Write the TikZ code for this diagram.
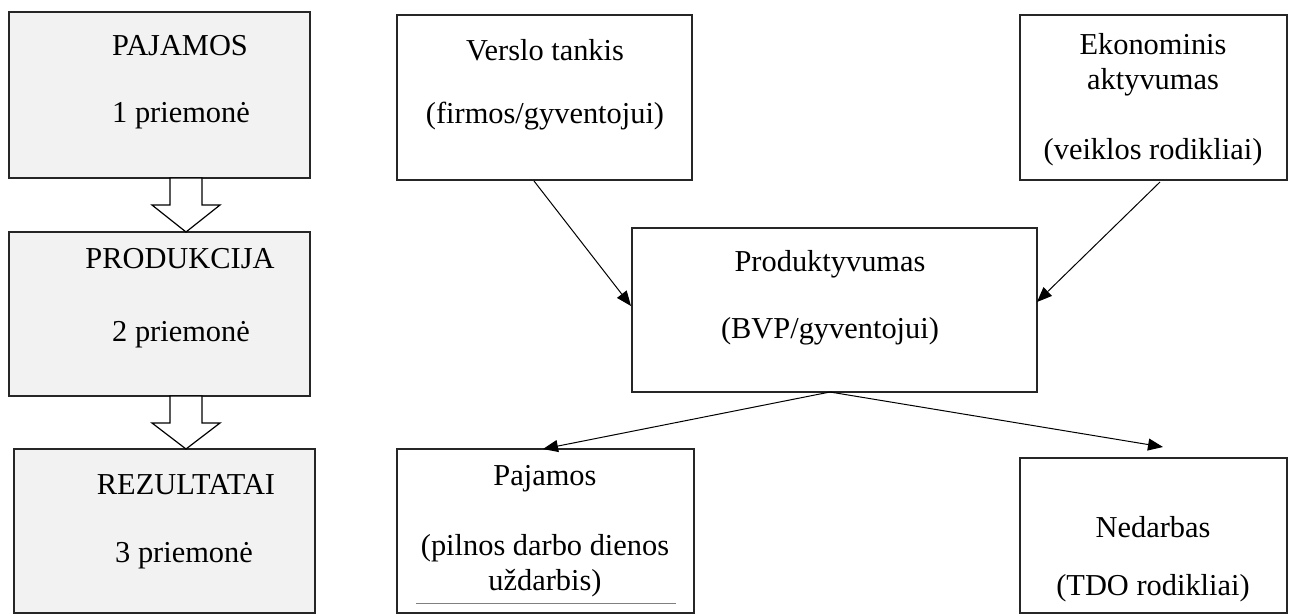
\documentclass[tikz,border=0pt]{standalone}
\usepackage{fontspec}
\setmainfont{Liberation Serif}
\usetikzlibrary{fit,arrows.meta}
\definecolor{boxgray}{HTML}{F2F2F2}
\begin{document}
\begin{tikzpicture}[x=0.5pt,y=-0.5pt,
  lbox/.style={draw=black!85,line width=0.65pt,fill=boxgray,inner sep=0pt},
  rbox/.style={draw=black!85,line width=0.65pt,fill=white,inner sep=0pt},
  txt/.style={font=\fontsize{15.2}{18}\selectfont,inner sep=0pt,align=center},
  arr/.style={line width=0.5pt,-{Triangle[length=7.5pt,width=6pt]}},
  blockarr/.style={draw=black,line width=0.6pt,fill=white,line join=miter}]
\useasboundingbox (0,0) rectangle (1296,615);
% left column
\node[lbox,fit={(9,12)(310,178)}] (b1) {};
\node[lbox,fit={(9,232)(310,396)}] (b2) {};
\node[lbox,fit={(14,449)(315,613)}] (b3) {};
\node[txt] (t1a) at (180,46) {PAJAMOS};
\node[txt] (t1b) at (181,116) {1 priemonė};
\node[txt] (t2a) at (180,259) {PRODUKCIJA};
\node[txt] (t2b) at (181,335) {2 priemonė};
\node[txt] (t3a) at (186,485) {REZULTATAI};
\node[txt] (t3b) at (184,556) {3 priemonė};
% block arrows
\draw[blockarr] (170,178) -- (170,205) -- (152,205) -- (186,232) -- (220,205) -- (202,205) -- (202,178) -- cycle;
\draw[blockarr] (170,396) -- (170,423) -- (152,423) -- (186,449) -- (220,423) -- (202,423) -- (202,396) -- cycle;
% right part
\node[rbox,fit={(397,15)(692,180)}] (vt) {};
\node[txt] (vt1) at (545,50) {Verslo tankis};
\node[txt] (vt2) at (545,116) {(firmos/gyventojui)};
\node[rbox,fit={(1020,15)(1287,180)}] (ea) {};
\node[txt] (ea1) at (1153,44) {Ekonominis};
\node[txt] (ea2) at (1153,82) {aktyvumas};
\node[txt] (ea3) at (1153,152) {(veiklos rodikliai)};
\node[rbox,fit={(632,228)(1037,392)}] (pr) {};
\node[txt] (pr1) at (830,264) {Produktyvumas};
\node[txt] (pr2) at (830,331) {(BVP/gyventojui)};
\node[rbox,fit={(397,449)(694,613)}] (pj) {};
\node[txt] (pj1) at (545,479) {Pajamos};
\node[txt] (pj2) at (545,548) {(pilnos darbo dienos};
\node[txt] (pj3) at (545,583) {uždarbis)};
\draw[black!50,line width=0.4pt] (416,603) -- (676,603);
\node[rbox,fit={(1020,458)(1287,613)}] (nd) {};
\node[txt] (nd1) at (1153,527) {Nedarbas};
\node[txt] (nd2) at (1153,588) {(TDO rodikliai)};
% connector end points
\coordinate (c1) at (534,181);
\coordinate (c2) at (631,306);
\coordinate (c3) at (1160,182);
\coordinate (c4) at (1037,302);
\coordinate (c5) at (830,392);
\coordinate (c6) at (543,449);
\coordinate (c7) at (1163,447);
\draw[arr] (c1) -- (c2);
\draw[arr] (c3) -- (c4);
\draw[arr] (c5) -- (c6);
\draw[arr] (c5) -- (c7);
\end{tikzpicture}
\end{document}
